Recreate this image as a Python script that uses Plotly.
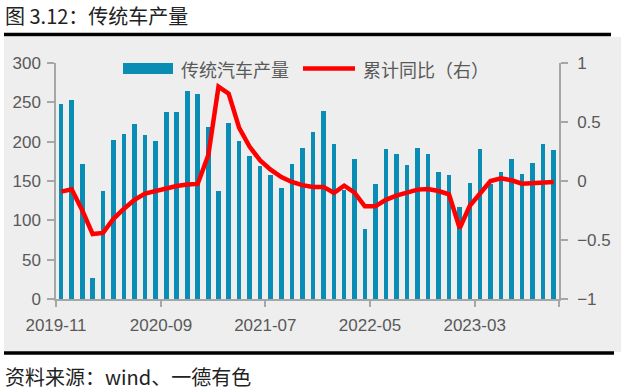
import plotly.graph_objects as go

# ---- data ----
months = ["2019-11","2019-12","2020-01","2020-02","2020-03","2020-04","2020-05","2020-06",
          "2020-07","2020-08","2020-09","2020-10","2020-11","2020-12","2021-01","2021-02",
          "2021-03","2021-04","2021-05","2021-06","2021-07","2021-08","2021-09","2021-10",
          "2021-11","2021-12","2022-01","2022-02","2022-03","2022-04","2022-05","2022-06",
          "2022-07","2022-08","2022-09","2022-10","2022-11","2022-12","2023-01","2023-02",
          "2023-03","2023-04","2023-05","2023-06","2023-07","2023-08","2023-09","2023-10"]
production = [248,253,172,27,137,202,210,222,209,201,
              238,238,264,261,219,137,224,201,182,169,
              158,141,172,192,212,239,197,138,178,89,
              146,191,184,170,192,184,162,158,117,148,
              191,146,162,178,159,173,197,190]
yoy = [-0.09,-0.07,-0.25,-0.45,-0.44,-0.32,-0.235,-0.16,-0.107,-0.085,
       -0.06,-0.042,-0.03,-0.025,0.22,0.80,0.74,0.45,0.29,0.175,
       0.096,0.034,-0.008,-0.035,-0.05,-0.05,-0.1,-0.04,-0.096,-0.215,
       -0.215,-0.16,-0.124,-0.096,-0.073,-0.068,-0.085,-0.113,-0.40,-0.21,
       -0.113,0.0,0.023,0.006,-0.023,-0.017,-0.008,-0.008]
tick_months = ["2019-11","2020-09","2021-07","2022-05","2023-03","2023-11"]
tick_labels = ["2019-11","2020-09","2021-07","2022-05","2023-03",""]
y_ticks = [0,50,100,150,200,250,300]
y2_ticks = [-1,-0.5,0,0.5,1]
y2_labels = ["\u22121","\u22120.5","0","0.5","1"]
bar_name = "传统汽车产量"
line_name = "累计同比（右）"
title_text = "图 3.12：传统车产量"
source_text = "资料来源：wind、一德有色"

BAR_COLOR = "#0A8DB5"
LINE_COLOR = "#FF0000"
AX_COLOR = "#A6A6A6"
TXT_COLOR = "#595959"
CJK = "Noto Sans CJK SC"
LAT = "Liberation Sans"

W, H = 623, 392
L, R, T, B = 56, 64, 63, 93
pw, ph = W - L - R, H - T - B

def px(x):
    return (x - L) / pw

def py(y):
    return (H - B - y) / ph

fig = go.Figure()
fig.add_trace(go.Bar(
    x=[m + "-01" for m in months], y=production, name=bar_name,
    xperiod="M1", xperiodalignment="middle",
    width=13.5 * 86400000, marker=dict(color=BAR_COLOR, line=dict(width=0)),
    showlegend=False, yaxis="y"))
fig.add_trace(go.Scatter(
    x=[m + "-01" for m in months], y=yoy, name=line_name,
    xperiod="M1", xperiodalignment="middle",
    mode="lines", line=dict(color=LINE_COLOR, width=4.5),
    showlegend=False, yaxis="y2"))

shapes = [
    # gray panel
    dict(type="rect", xref="paper", yref="paper", x0=px(4), x1=px(621), y0=py(352), y1=py(37),
         fillcolor="#EEEEEE", line=dict(width=0), layer="below"),
    # black rules
    dict(type="line", xref="paper", yref="paper", x0=px(4), x1=px(611), y0=py(34.5), y1=py(34.5),
         line=dict(color="black", width=3.5)),
    dict(type="line", xref="paper", yref="paper", x0=px(4), x1=px(614), y0=py(353), y1=py(353),
         line=dict(color="black", width=3.5)),
    # legend swatches
    dict(type="rect", xref="paper", yref="paper", x0=px(123), x1=px(173), y0=py(74), y1=py(63),
         fillcolor=BAR_COLOR, line=dict(width=0)),
    dict(type="line", xref="paper", yref="paper", x0=px(303), x1=px(355), y0=py(68.5), y1=py(68.5),
         line=dict(color=LINE_COLOR, width=4.5)),
]

annotations = [
    dict(text=title_text, xref="paper", yref="paper", x=px(3), y=py(15), xanchor="left",
         yanchor="middle", showarrow=False, font=dict(family=CJK, size=20, color="#222222")),
    dict(text=source_text, xref="paper", yref="paper", x=px(3), y=py(376), xanchor="left",
         yanchor="middle", showarrow=False, font=dict(family=CJK, size=20, color="#222222")),
    dict(text=bar_name, xref="paper", yref="paper", x=px(179), y=py(68.5), xanchor="left",
         yanchor="middle", showarrow=False, font=dict(family=CJK, size=18, color=TXT_COLOR)),
    dict(text=line_name, xref="paper", yref="paper", x=px(361), y=py(68.5), xanchor="left",
         yanchor="middle", showarrow=False, font=dict(family=CJK, size=18, color=TXT_COLOR)),
]

fig.update_layout(
    width=W, height=H,
    margin=dict(l=L, r=R, t=T, b=B, pad=0),
    paper_bgcolor="white", plot_bgcolor="rgba(0,0,0,0)",
    showlegend=False, bargap=0,
    shapes=shapes, annotations=annotations,
    xaxis=dict(
        type="date", range=["2019-11-01", "2023-11-01"],
        tickmode="array", tickvals=[m + "-01" for m in tick_months], ticktext=tick_labels,
        showline=True, linecolor=AX_COLOR, linewidth=1.5, ticks="outside", ticklen=6,
        tickcolor=AX_COLOR, tickwidth=1.5, showgrid=False, zeroline=False,
        tickfont=dict(family=LAT, size=17, color=TXT_COLOR), ticklabelstandoff=4),
    yaxis=dict(
        range=[0, 300], tickmode="array", tickvals=y_ticks,
        showline=True, linecolor=AX_COLOR, linewidth=1.5, ticks="outside", ticklen=7,
        tickcolor=AX_COLOR, tickwidth=1.5, showgrid=False, zeroline=False,
        tickfont=dict(family=LAT, size=17, color=TXT_COLOR), ticklabelstandoff=3),
    yaxis2=dict(
        range=[-1, 1], overlaying="y", side="right", tickmode="array",
        tickvals=y2_ticks, ticktext=y2_labels,
        showline=True, linecolor=AX_COLOR, linewidth=1.5, ticks="outside", ticklen=7,
        tickcolor=AX_COLOR, tickwidth=1.5, showgrid=False, zeroline=False,
        tickfont=dict(family=LAT, size=17, color=TXT_COLOR), ticklabelstandoff=6),
)

fig.write_html("out.html", config={"displayModeBar": False},
               post_script="document.body.style.margin='0';")
